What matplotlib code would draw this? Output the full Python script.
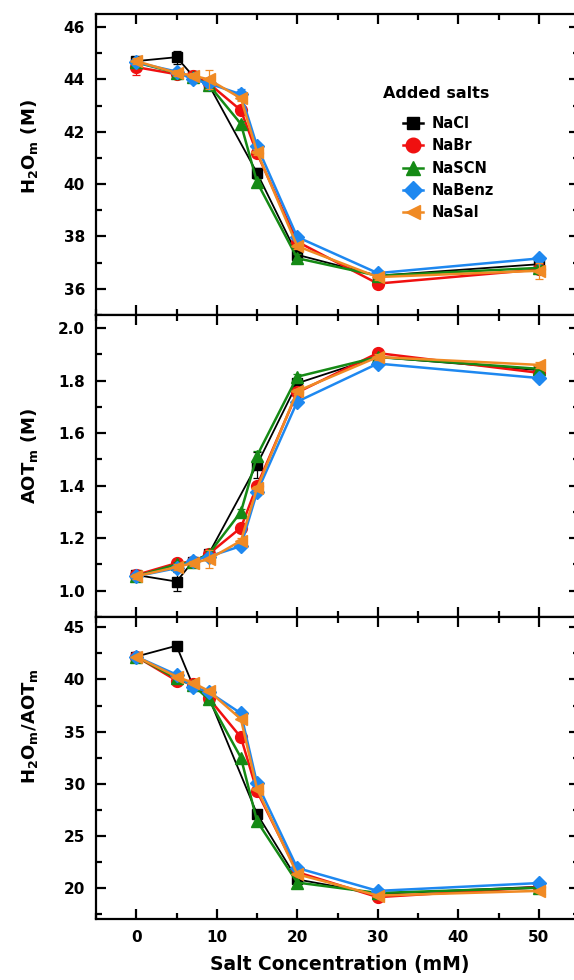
import matplotlib
matplotlib.use("Agg")
import matplotlib.pyplot as plt
from matplotlib.ticker import MultipleLocator
from matplotlib.lines import Line2D

plt.rcParams['font.family'] = ['DejaVu Sans']
plt.rcParams['font.weight'] = 'bold'
plt.rcParams['mathtext.fontset'] = 'custom'
plt.rcParams['mathtext.rm'] = 'DejaVu Sans:bold'
plt.rcParams['mathtext.it'] = 'DejaVu Sans:bold'
plt.rcParams['mathtext.bf'] = 'DejaVu Sans:bold'

# ---------------- data ----------------
salts = ["NaCl", "NaBr", "NaSCN", "NaBenz", "NaSal"]
x_nacl = [0, 5, 7, 9, 15, 20, 30, 50]
x_other = [0, 5, 7, 9, 13, 15, 20, 30, 50]

h2o_nacl   = [44.7, 44.85, 44.15, 43.8, 40.43, 37.3, 36.5, 36.94]
h2o_nabr   = [44.47, 44.2, 44.15, 43.85, 42.82, 41.18, 37.8, 36.2, 36.74]
h2o_nascn  = [44.65, 44.25, 44.1, 43.8, 42.3, 40.08, 37.17, 36.5, 36.8]
h2o_nabenz = [44.65, 44.3, 44.0, 43.85, 43.43, 41.46, 37.98, 36.6, 37.16]
h2o_nasal  = [44.7, 44.25, 44.15, 44.0, 43.28, 41.23, 37.63, 36.45, 36.69]

aot_nacl   = [1.06, 1.035, 1.11, 1.14, 1.48, 1.79, 1.89, 1.84]
aot_nabr   = [1.06, 1.105, 1.11, 1.14, 1.24, 1.40, 1.755, 1.905, 1.83]
aot_nascn  = [1.055, 1.10, 1.11, 1.14, 1.30, 1.514, 1.815, 1.89, 1.845]
aot_nabenz = [1.055, 1.086, 1.115, 1.13, 1.17, 1.375, 1.72, 1.865, 1.81]
aot_nasal  = [1.055, 1.09, 1.105, 1.12, 1.19, 1.39, 1.76, 1.89, 1.86]

rat_nacl   = [42.2, 43.24, 39.5, 38.3, 27.1, 20.8, 19.4, 20.1]
rat_nabr   = [42.2, 39.9, 39.6, 38.2, 34.45, 29.27, 21.5, 19.1, 20.05]
rat_nascn  = [42.2, 40.1, 39.5, 38.1, 32.5, 26.4, 20.5, 19.5, 20.0]
rat_nabenz = [42.2, 40.46, 39.3, 38.8, 36.75, 30.04, 21.9, 19.7, 20.45]
rat_nasal  = [42.2, 40.27, 39.7, 38.9, 36.2, 29.5, 21.3, 19.25, 19.7]

# error bars (small)
h2o_err_nacl   = [0.1, 0.25, 0.1, 0.1, 0.2, 0.15, 0.1, 0.15]
h2o_err_nabr   = [0.3, 0.1, 0.1, 0.1, 0.15, 0.15, 0.15, 0.1, 0.1]
h2o_err_nascn  = [0.1, 0.1, 0.1, 0.1, 0.1, 0.1, 0.15, 0.1, 0.1]
h2o_err_nabenz = [0.1, 0.1, 0.1, 0.1, 0.2, 0.1, 0.1, 0.1, 0.1]
h2o_err_nasal  = [0.1, 0.1, 0.1, 0.35, 0.1, 0.1, 0.1, 0.1, 0.3]

aot_err_nacl   = [0.01, 0.035, 0.01, 0.01, 0.05, 0.01, 0.01, 0.01]
aot_err_nabr   = [0.01, 0.01, 0.01, 0.01, 0.01, 0.01, 0.01, 0.01, 0.01]
aot_err_nascn  = [0.01, 0.01, 0.01, 0.01, 0.01, 0.02, 0.01, 0.01, 0.01]
aot_err_nabenz = [0.01, 0.01, 0.01, 0.01, 0.01, 0.01, 0.01, 0.01, 0.01]
aot_err_nasal  = [0.01, 0.01, 0.01, 0.035, 0.01, 0.01, 0.01, 0.01, 0.01]

colors = ["#000000", "#F01010", "#158A15", "#1E88F0", "#F08A24"]
markers = ["s", "o", "^", "D", "<"]
msizes = [7, 8.5, 8.5, 7.5, 8.5]

panels = [
    dict(ys=[h2o_nacl, h2o_nabr, h2o_nascn, h2o_nabenz, h2o_nasal],
         errs=[h2o_err_nacl, h2o_err_nabr, h2o_err_nascn, h2o_err_nabenz, h2o_err_nasal],
         ylim=(35, 46.5), major=2, minor=1, fmt="{:.0f}",
         ylabel=r"H$_2$O$_m$ (M)", ly=0.56),
    dict(ys=[aot_nacl, aot_nabr, aot_nascn, aot_nabenz, aot_nasal],
         errs=[aot_err_nacl, aot_err_nabr, aot_err_nascn, aot_err_nabenz, aot_err_nasal],
         ylim=(0.9, 2.05), major=0.2, minor=0.1, fmt="{:.1f}",
         ylabel=r"AOT$_m$ (M)", ly=0.535),
    dict(ys=[rat_nacl, rat_nabr, rat_nascn, rat_nabenz, rat_nasal],
         errs=None,
         ylim=(17, 46), major=5, minor=2.5, fmt="{:.0f}",
         ylabel=r"H$_2$O$_m$/AOT$_m$", ly=0.64),
]

fig = plt.figure(figsize=(5.74, 9.8), dpi=100)
W, H = 574.0, 980.0
left_px, right_px = 96, 579
tops = [14, 315, 617]
bots = [315, 617, 919]

axes = []
for i, p in enumerate(panels):
    ax = fig.add_axes([left_px / W, 1 - bots[i] / H, (right_px - left_px) / W,
                       (bots[i] - tops[i]) / H])
    axes.append(ax)
    for k, name in enumerate(salts):
        xs = x_nacl if k == 0 else x_other
        ys = p["ys"][k]
        err = p["errs"][k] if p["errs"] is not None else None
        lw = 1.3 if k == 0 else 1.8
        ax.errorbar(xs, ys, yerr=err, color=colors[k], marker=markers[k],
                    markersize=msizes[k], linewidth=lw, elinewidth=0.9,
                    capsize=3, capthick=0.9, zorder=2 + k)
    ax.set_xlim(-5, 55)
    ax.set_ylim(*p["ylim"])
    ax.xaxis.set_major_locator(MultipleLocator(10))
    ax.xaxis.set_minor_locator(MultipleLocator(5))
    ax.yaxis.set_major_locator(MultipleLocator(p["major"]))
    ax.yaxis.set_minor_locator(MultipleLocator(p["minor"]))
    ax.tick_params(which="both", direction="in", top=True, right=True,
                   width=1.6, labelsize=11)
    ax.tick_params(which="major", length=7)
    ax.tick_params(which="minor", length=4)
    ax.tick_params(axis="y", pad=8)
    for s in ax.spines.values():
        s.set_linewidth(1.6)
    yt = [t for t in ax.get_yticks() if p["ylim"][0] <= t <= p["ylim"][1]]
    ax.set_yticks(yt)
    ax.set_yticklabels([p["fmt"].format(t) for t in yt], fontweight="bold")
    ax.set_ylabel(p["ylabel"], fontsize=13, fontweight="bold")
    ax.yaxis.set_label_coords(-0.115, p["ly"])
    if i < 2:
        ax.tick_params(labelbottom=False)
    else:
        ax.set_xticks([0, 10, 20, 30, 40, 50])
        ax.set_xticklabels(["0", "10", "20", "30", "40", "50"], fontweight="bold")
        ax.tick_params(axis="x", pad=8)
        ax.set_xlabel("Salt Concentration (mM)", fontsize=13.5, fontweight="bold")
        ax.xaxis.set_label_coords(0.505, -0.118)

# legend in top panel: title as separate text, entries below
ax0 = axes[0]
fig.text(436 / W, 1 - 93 / H, "Added salts", ha="center", va="center",
         fontsize=11.5, fontweight="bold")
handles = [Line2D([], [], color=colors[k], marker=markers[k],
                  markersize=msizes[k] + 2, linewidth=1.8) for k in range(5)]
leg = ax0.legend(handles, salts, loc="upper left",
                 bbox_to_anchor=(0.623, 0.68), frameon=False,
                 handlelength=1.36, handletextpad=0.6, labelspacing=0.5,
                 borderaxespad=0,
                 prop=dict(weight="bold", size=10.5))

fig.savefig("out.png", dpi=100)
